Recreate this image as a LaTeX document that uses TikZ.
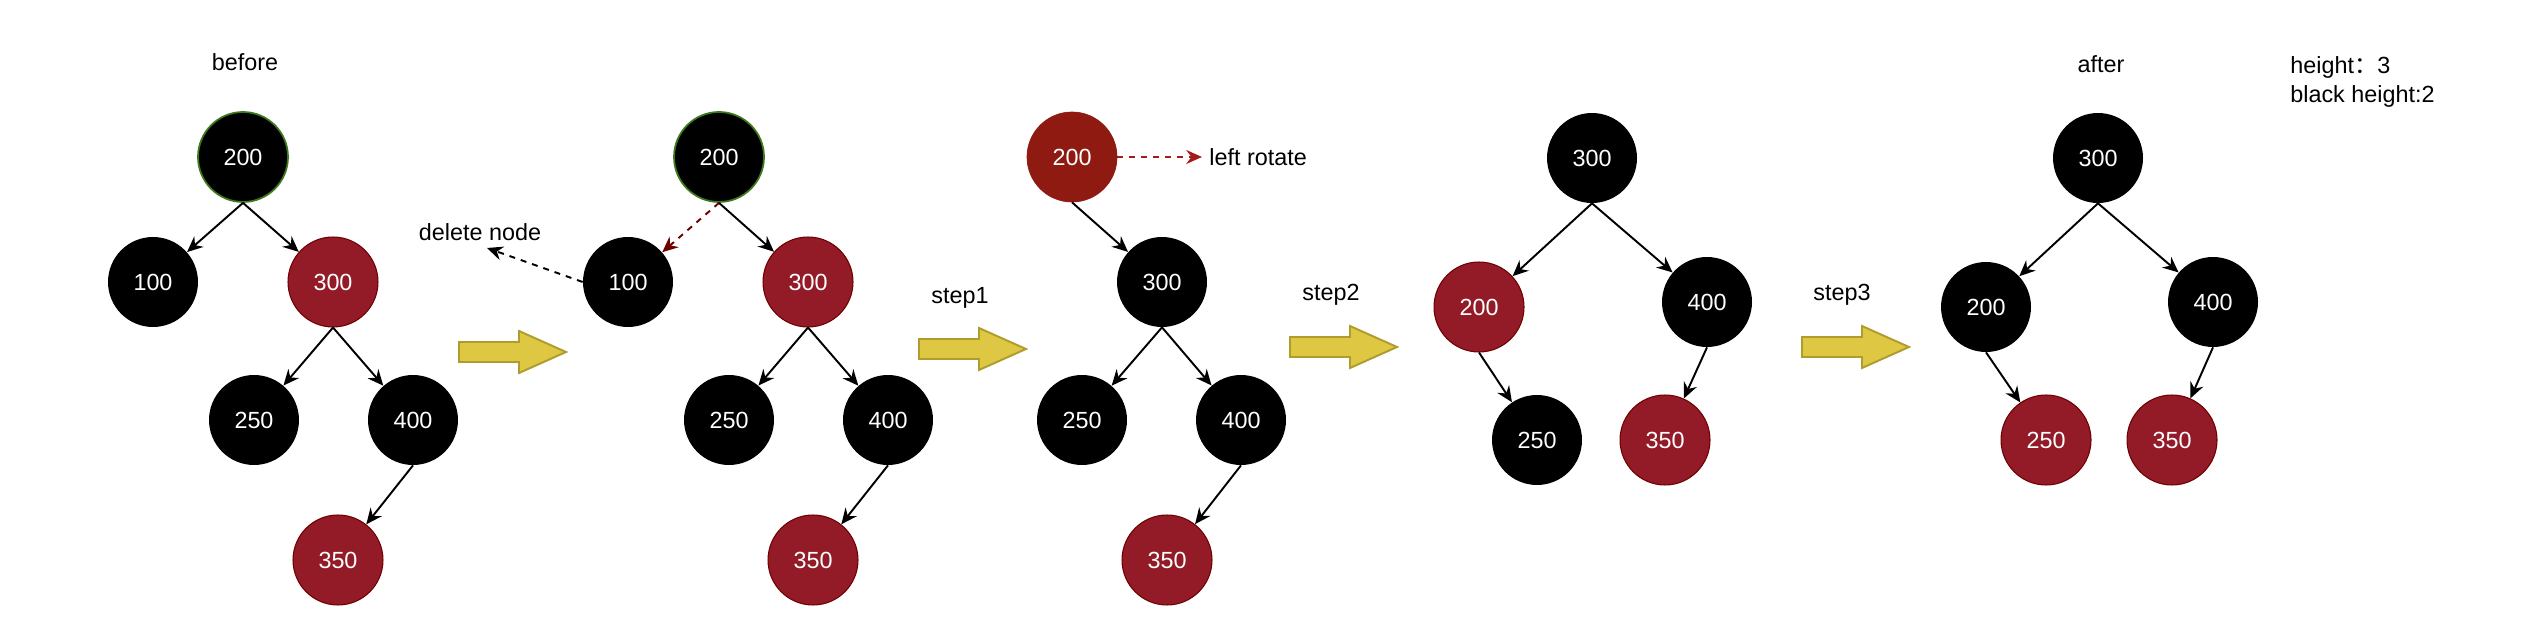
\documentclass[tikz,border=0pt]{standalone}
\usepackage{fontspec}
\setmainfont{Liberation Sans}
\newfontfamily\cjk{Noto Sans CJK SC}
\usetikzlibrary{arrows.meta}

\definecolor{rbred}{HTML}{931B28}
\definecolor{rbborder}{HTML}{6F0000}
\definecolor{rotred}{HTML}{8E1A12}
\definecolor{rootgreen}{HTML}{3E7A1C}
\definecolor{stepfill}{HTML}{DEC742}
\definecolor{stepdraw}{HTML}{B09B2D}
\definecolor{dashred}{HTML}{A31C1C}

\begin{document}
\begin{tikzpicture}[x=0.02cm,y=-0.02cm,
    every node/.style={font=\fontsize{13.3}{16}\selectfont},
    blk/.style={circle,fill=black,minimum size=1.8cm,inner sep=0pt,text=white},
    rednd/.style={circle,fill=rbred,draw=rbborder,line width=0.6pt,minimum size=1.8cm,inner sep=0pt,text=white},
    lbl/.style={inner sep=0pt},
    tree/.style={-{Stealth[length=9pt,width=8pt,inset=3pt]},line width=1.1pt},
    dsh/.style={tree,dash pattern=on 3.4pt off 3.4pt},
    stepbox/.style={fill=stepfill,draw=stepdraw,line width=1.1pt}]
    \useasboundingbox (0,0) rectangle (2524,644);

    % before
    \node[lbl] (before) at (245,62) {before};
    \node[blk,draw=rootgreen,line width=1pt] (a200) at (243,157) {200};
    \node[blk] (a100) at (153,282) {100};
    \node[rednd] (a300) at (333,282) {300};
    \node[blk] (a250) at (254,420) {250};
    \node[blk] (a400) at (413,420) {400};
    \node[rednd] (a350) at (338,560) {350};
    \draw[tree] (a200.south) -- (a100);
    \draw[tree] (a200.south) -- (a300);
    \draw[tree] (a300.south) -- (a250);
    \draw[tree] (a300.south) -- (a400);
    \draw[tree] (a400.south) -- (a350);

    % delete 100
    \node[blk,draw=rootgreen,line width=1pt] (b200) at (719,157) {200};
    \node[blk] (b100) at (628,282) {100};
    \node[rednd] (b300) at (808,282) {300};
    \node[blk] (b250) at (729,420) {250};
    \node[blk] (b400) at (888,420) {400};
    \node[rednd] (b350) at (813,560) {350};
    \draw[dsh,draw=rbborder] (b200.south) -- (b100);
    \draw[tree] (b200.south) -- (b300);
    \draw[tree] (b300.south) -- (b250);
    \draw[tree] (b300.south) -- (b400);
    \draw[tree] (b400.south) -- (b350);
    \node[lbl] (delnode) at (480,232) {delete node};
    \coordinate (deltip) at (487,248);
    \draw[dsh] (b100.west) -- (deltip);

    % step1
    \node[lbl] (step1) at (960,298) {step1};
    \node[circle,fill=rotred,draw=rotred,minimum size=1.8cm,inner sep=0pt,text=white] (c200) at (1072,157) {200};
    \node[blk] (c300) at (1162,282) {300};
    \node[blk] (c250) at (1082,420) {250};
    \node[blk] (c400) at (1241,420) {400};
    \node[rednd] (c350) at (1167,560) {350};
    \draw[tree] (c200.south) -- (c300);
    \draw[tree] (c300.south) -- (c250);
    \draw[tree] (c300.south) -- (c400);
    \draw[tree] (c400.south) -- (c350);
    \node[lbl,anchor=west] (lrot) at (1209,157) {left rotate};
    \draw[dsh,draw=dashred] (c200.east) -- ([xshift=-4pt]lrot.west);

    % step2
    \node[lbl] (step2) at (1331,295) {step2};
    \node[blk] (d300) at (1592,158) {300};
    \node[rednd] (d200) at (1479,307) {200};
    \node[blk] (d400) at (1707,302) {400};
    \node[blk] (d250) at (1537,440) {250};
    \node[rednd] (d350) at (1665,440) {350};
    \draw[tree] (d300.south) -- (d200);
    \draw[tree] (d300.south) -- (d400);
    \draw[tree] (d200.south) -- (d250);
    \draw[tree] (d400.south) -- (d350);

    % step3, after
    \node[lbl] (step3) at (1842,295) {step3};
    \node[lbl] (after) at (2101,64) {after};
    \node[blk] (e300) at (2098,158) {300};
    \node[blk] (e200) at (1986,307) {200};
    \node[blk] (e400) at (2213,302) {400};
    \node[rednd] (e250) at (2046,440) {250};
    \node[rednd] (e350) at (2172,440) {350};
    \draw[tree] (e300.south) -- (e200);
    \draw[tree] (e300.south) -- (e400);
    \draw[tree] (e200.south) -- (e250);
    \draw[tree] (e400.south) -- (e350);
    \node[lbl,anchor=west,align=left] (hgt) at (2290,82) {height{\cjk ：}3\\black height:2};

    % yellow step arrows
    \foreach \x/\y in {459/352,919/349,1290/347,1802/347}
      \draw[stepbox] (\x,\y-10) -- ++(60,0) -- ++(0,-11) -- ++(47,21)
        -- ++(-47,21) -- ++(0,-11) -- ++(-60,0) -- cycle;
\end{tikzpicture}
\end{document}
